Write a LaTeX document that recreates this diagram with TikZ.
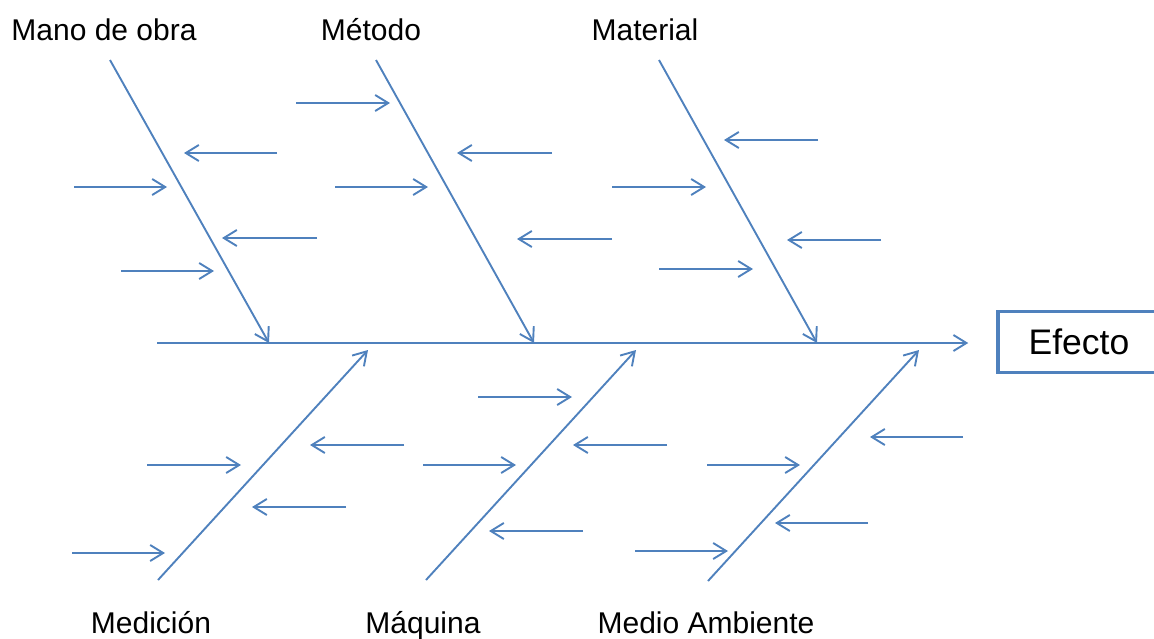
\documentclass[tikz,border=0pt]{standalone}
\usepackage{fontspec}
\setmainfont{Liberation Sans}
\usetikzlibrary{arrows.meta}
\definecolor{fblue}{HTML}{4F81BD}
\tikzset{
  bone/.style={draw=fblue, line width=1.9pt, -{Straight Barb[length=13pt,width=16pt,line width=1.9pt]}},
  small/.style={draw=fblue, line width=1.9pt, -{Straight Barb[length=13pt,width=16pt,line width=1.9pt]}},
  lbl/.style={font=\fontsize{30}{30}\selectfont, text=black, inner sep=0pt, anchor=base},
  effbox/.style={draw=fblue, line width=3.5pt, minimum width=162pt, minimum height=61pt, font=\fontsize{35.5}{36}\selectfont, text=black, inner sep=0pt}
}
\begin{document}
\begin{tikzpicture}[x=1pt,y=-1pt]
\useasboundingbox (0,0) rectangle (1154,638);
% effect box and spine
\node[effbox] (efecto) at (1079,342) {Efecto};
\coordinate (spineStart) at (157,343);
\draw[bone, shorten >=28pt] (spineStart) -- (efecto.west |- spineStart);
% category labels
\node[lbl] (lMano) at (104,40) {Mano de obra};
\node[lbl] (lMetodo) at (371,40) {Método};
\node[lbl] (lMaterial) at (645,40) {Material};
\node[lbl] (lMedicion) at (151,633) {Medición};
\node[lbl] (lMaquina) at (423,633) {Máquina};
\node[lbl] (lMedio) at (706,633) {Medio Ambiente};
% bones
\coordinate (b1s) at (110,60);  \coordinate (b1e) at (269,343);
\coordinate (b2s) at (376,60);  \coordinate (b2e) at (534,343);
\coordinate (b3s) at (659,60);  \coordinate (b3e) at (817,343);
\coordinate (b4s) at (158,580); \coordinate (b4e) at (368,350);
\coordinate (b5s) at (426,580); \coordinate (b5e) at (636,350);
\coordinate (b6s) at (708,581); \coordinate (b6e) at (919,350);
\foreach \i in {1,...,6} { \draw[bone] (b\i s) -- (b\i e); }
% small causes: name/start x/end x/y
\foreach \n/\xa/\xb/\y in {
  a1/277/184/153, a2/74/167/187, a3/317/222/238, a4/121/214/271,
  m1/296/390/103, m2/552/457/153, m3/335/428/187, m4/612/517/239,
  t1/818/724/140, t2/612/706/187, t3/881/787/240, t4/659/753/269,
  d1/404/310/445, d2/147/241/465, d3/346/252/507, d4/72/165/553,
  q1/478/572/397, q2/667/573/445, q3/423/516/465, q4/583/489/531,
  e1/963/870/437, e2/707/800/465, e3/868/775/523, e4/635/728/551}
{
  \coordinate (\n s) at (\xa,\y);
  \coordinate (\n e) at (\xb,\y);
  \draw[small] (\n s) -- (\n e);
}
\end{tikzpicture}
\end{document}
